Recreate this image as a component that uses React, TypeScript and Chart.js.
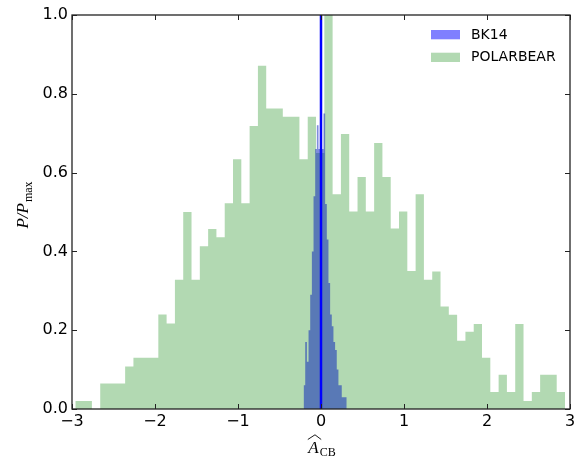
import React, { useEffect, useRef } from 'react';
import { Chart, registerables } from 'chart.js';

Chart.register(...registerables);

// POLARBEAR histogram: bins of equal width starting at POLARBEAR_BIN_START
const POLARBEAR_BIN_START = -2.96;
const POLARBEAR_BIN_WIDTH = 0.1;
const POLARBEAR_VALUES = [
  0.02, 0.02, 0.0, 0.065, 0.065, 0.065, 0.108, 0.13, 0.13, 0.13,
  0.24, 0.217, 0.328, 0.5, 0.328, 0.413, 0.457, 0.436, 0.522, 0.634,
  0.522, 0.718, 0.871, 0.763, 0.763, 0.742, 0.742, 0.634, 0.742, 0.65,
  1.0, 0.545, 0.698, 0.501, 0.589, 0.501, 0.675, 0.589, 0.458, 0.501,
  0.35, 0.545, 0.328, 0.349, 0.26, 0.239, 0.173, 0.196, 0.216, 0.13,
  0.043, 0.087, 0.043, 0.216, 0.02, 0.043, 0.087, 0.087, 0.043,
];

// BK14 histogram (narrow bins)
const BK14_BIN_WIDTH = 0.02;
const BK14_BIN_CENTERS = [
  -0.2, -0.18, -0.16, -0.14, -0.12, -0.1, -0.08, -0.06, -0.04, -0.02,
  0.0, 0.02, 0.04, 0.06, 0.08, 0.1, 0.12, 0.14, 0.16, 0.18,
  0.2, 0.22, 0.24, 0.26, 0.28, 0.3,
];
const BK14_VALUES = [
  0.06, 0.17, 0.12, 0.2, 0.29, 0.4, 0.54, 0.66, 0.72, 0.66,
  1.0, 0.66, 0.75, 0.52, 0.43, 0.32, 0.24, 0.21, 0.17, 0.15,
  0.1, 0.06, 0.06, 0.03, 0.03, 0.03,
];

const REFERENCE_LINE_X = 0;
const X_MIN = -3;
const X_MAX = 3;
const Y_MIN = 0;
const Y_MAX = 1;
const LEGEND_LABELS = ['BK14', 'POLARBEAR'];

const BK14_COLOR = 'rgba(0,0,255,0.5)';
const BK14_FILL = 'rgba(0,25,185,0.5)';
const POLARBEAR_COLOR = 'rgba(0,128,0,0.3)';

// histogram as a filled step outline: one point per bin's left edge, plus the closing right edge
function histSteps(lefts: number[], values: number[], width: number) {
  const pts = values.map((v, i) => ({ x: lefts[i], y: v }));
  pts.push({ x: lefts[lefts.length - 1] + width, y: 0 });
  return pts;
}

const framePlugin = {
  id: 'frameAndMath',
  afterDraw(chart: any) {
    const { ctx, chartArea: a, scales } = chart;
    ctx.save();
    ctx.strokeStyle = '#222';
    ctx.lineWidth = 1.3;
    ctx.strokeRect(a.left, a.top, a.right - a.left, a.bottom - a.top);
    ctx.lineWidth = 1;
    const tl = 5;
    ctx.beginPath();
    scales.x.ticks.forEach((t: any) => {
      const px = Math.round(scales.x.getPixelForValue(t.value)) + 0.5;
      ctx.moveTo(px, a.bottom);
      ctx.lineTo(px, a.bottom - tl);
      ctx.moveTo(px, a.top);
      ctx.lineTo(px, a.top + tl);
    });
    scales.y.ticks.forEach((t: any) => {
      const py = Math.round(scales.y.getPixelForValue(t.value)) + 0.5;
      ctx.moveTo(a.left, py);
      ctx.lineTo(a.left + tl, py);
      ctx.moveTo(a.right, py);
      ctx.lineTo(a.right - tl, py);
    });
    ctx.stroke();

    // legend
    const colors = [BK14_COLOR, POLARBEAR_COLOR];
    const sx = a.right - 139;
    LEGEND_LABELS.forEach((label, i) => {
      const sy = a.top + 15 + i * 22.7;
      ctx.fillStyle = colors[i];
      ctx.fillRect(sx, sy, 29, 9.3);
      ctx.fillStyle = '#000';
      ctx.font = '14px "DejaVu Sans"';
      ctx.textAlign = 'left';
      ctx.textBaseline = 'middle';
      ctx.fillText(label, sx + 40, sy + 5);
    });

    // y title: P/P_max
    const mainFont = 'italic 17px "Liberation Serif"';
    const subFont = '12px "Liberation Serif"';
    ctx.save();
    ctx.translate(28, 205);
    ctx.rotate(-Math.PI / 2);
    ctx.textBaseline = 'alphabetic';
    ctx.textAlign = 'left';
    ctx.font = mainFont;
    const w1 = ctx.measureText('P/P').width;
    ctx.font = subFont;
    const w2 = ctx.measureText('max').width;
    const total = w1 + w2 + 1;
    ctx.fillStyle = '#000';
    ctx.font = mainFont;
    ctx.fillText('P/P', -total / 2, 0);
    ctx.font = subFont;
    ctx.fillText('max', -total / 2 + w1 + 1, 4);
    ctx.restore();

    // x title: widehat A_CB
    ctx.save();
    ctx.fillStyle = '#000';
    ctx.font = mainFont;
    const wA = ctx.measureText('A').width;
    ctx.font = subFont;
    const wCB = ctx.measureText('CB').width;
    const tot = wA + wCB + 1;
    const cx = (a.left + a.right) / 2 + 1;
    const ax = cx - tot / 2;
    ctx.textAlign = 'left';
    ctx.textBaseline = 'alphabetic';
    ctx.font = mainFont;
    ctx.fillText('A', ax, 453);
    ctx.font = subFont;
    ctx.fillText('CB', ax + wA + 1, 456);
    ctx.strokeStyle = '#000';
    ctx.lineWidth = 0.9;
    ctx.beginPath();
    ctx.moveTo(ax - 0.5, 439.5);
    ctx.lineTo(ax + wA / 2 + 1.5, 434.8);
    ctx.lineTo(ax + wA + 2.5, 439.5);
    ctx.stroke();
    ctx.restore();

    ctx.restore();
  },
};

export default function App() {
  const canvasRef = useRef<HTMLCanvasElement | null>(null);

  useEffect(() => {
    const canvas = canvasRef.current;
    if (!canvas) return;

    const pbLefts = POLARBEAR_VALUES.map((_, i) => POLARBEAR_BIN_START + POLARBEAR_BIN_WIDTH * i);
    const polarbearData = histSteps(pbLefts, POLARBEAR_VALUES, POLARBEAR_BIN_WIDTH);
    const bkLefts = BK14_BIN_CENTERS.map((c) => c - BK14_BIN_WIDTH / 2);
    const bk14Data = histSteps(bkLefts, BK14_VALUES, BK14_BIN_WIDTH);

    const chart = new Chart(canvas, {
      type: 'line',
      data: {
        datasets: [
          {
            label: 'ref',
            data: [
              { x: REFERENCE_LINE_X, y: Y_MIN },
              { x: REFERENCE_LINE_X, y: Y_MAX },
            ],
            borderColor: '#0000ff',
            borderWidth: 2.5,
            pointRadius: 0,
            fill: false,
          },
          {
            label: LEGEND_LABELS[0],
            data: bk14Data,
            stepped: true,
            backgroundColor: BK14_FILL,
            borderWidth: 0,
            borderColor: 'rgba(0,0,0,0)',
            pointRadius: 0,
            fill: 'origin',
          },
          {
            label: LEGEND_LABELS[1],
            data: polarbearData,
            stepped: true,
            backgroundColor: POLARBEAR_COLOR,
            borderWidth: 0,
            borderColor: 'rgba(0,0,0,0)',
            pointRadius: 0,
            fill: 'origin',
          },
        ],
      },
      options: {
        animation: false,
        responsive: false,
        events: [],
        layout: { padding: { top: 15, right: 9, bottom: 0, left: 0 } },
        plugins: {
          legend: { display: false },
          tooltip: { enabled: false },
        },
        scales: {
          x: {
            type: 'linear',
            position: 'bottom',
            min: X_MIN,
            max: X_MAX,
            offset: false,
            grid: { display: false, drawTicks: false },
            border: { display: false },
            ticks: {
              stepSize: 1,
              padding: 3,
              color: '#000',
              font: { family: '"DejaVu Sans"', size: 16 },
              callback: (v: any) => (v < 0 ? '\u2212' + Math.abs(v) : String(v)),
            },
            afterFit: (scale: any) => {
              scale.height = 48;
            },
          },
          y: {
            type: 'linear',
            min: Y_MIN,
            max: Y_MAX,
            grid: { display: false, drawTicks: false },
            border: { display: false },
            ticks: {
              stepSize: 0.2,
              padding: 4,
              color: '#000',
              font: { family: '"DejaVu Sans"', size: 16 },
              callback: (v: any) => Number(v).toFixed(1),
            },
            afterFit: (scale: any) => {
              scale.width = 72;
            },
          },
        },
      } as any,
      plugins: [framePlugin],
    });

    return () => chart.destroy();
  }, []);

  return (
    <div style={{ position: 'fixed', left: 0, top: 0, width: 579, height: 457, background: '#fff' }}>
      <canvas ref={canvasRef} width={579} height={457} style={{ display: 'block' }} />
    </div>
  );
}
